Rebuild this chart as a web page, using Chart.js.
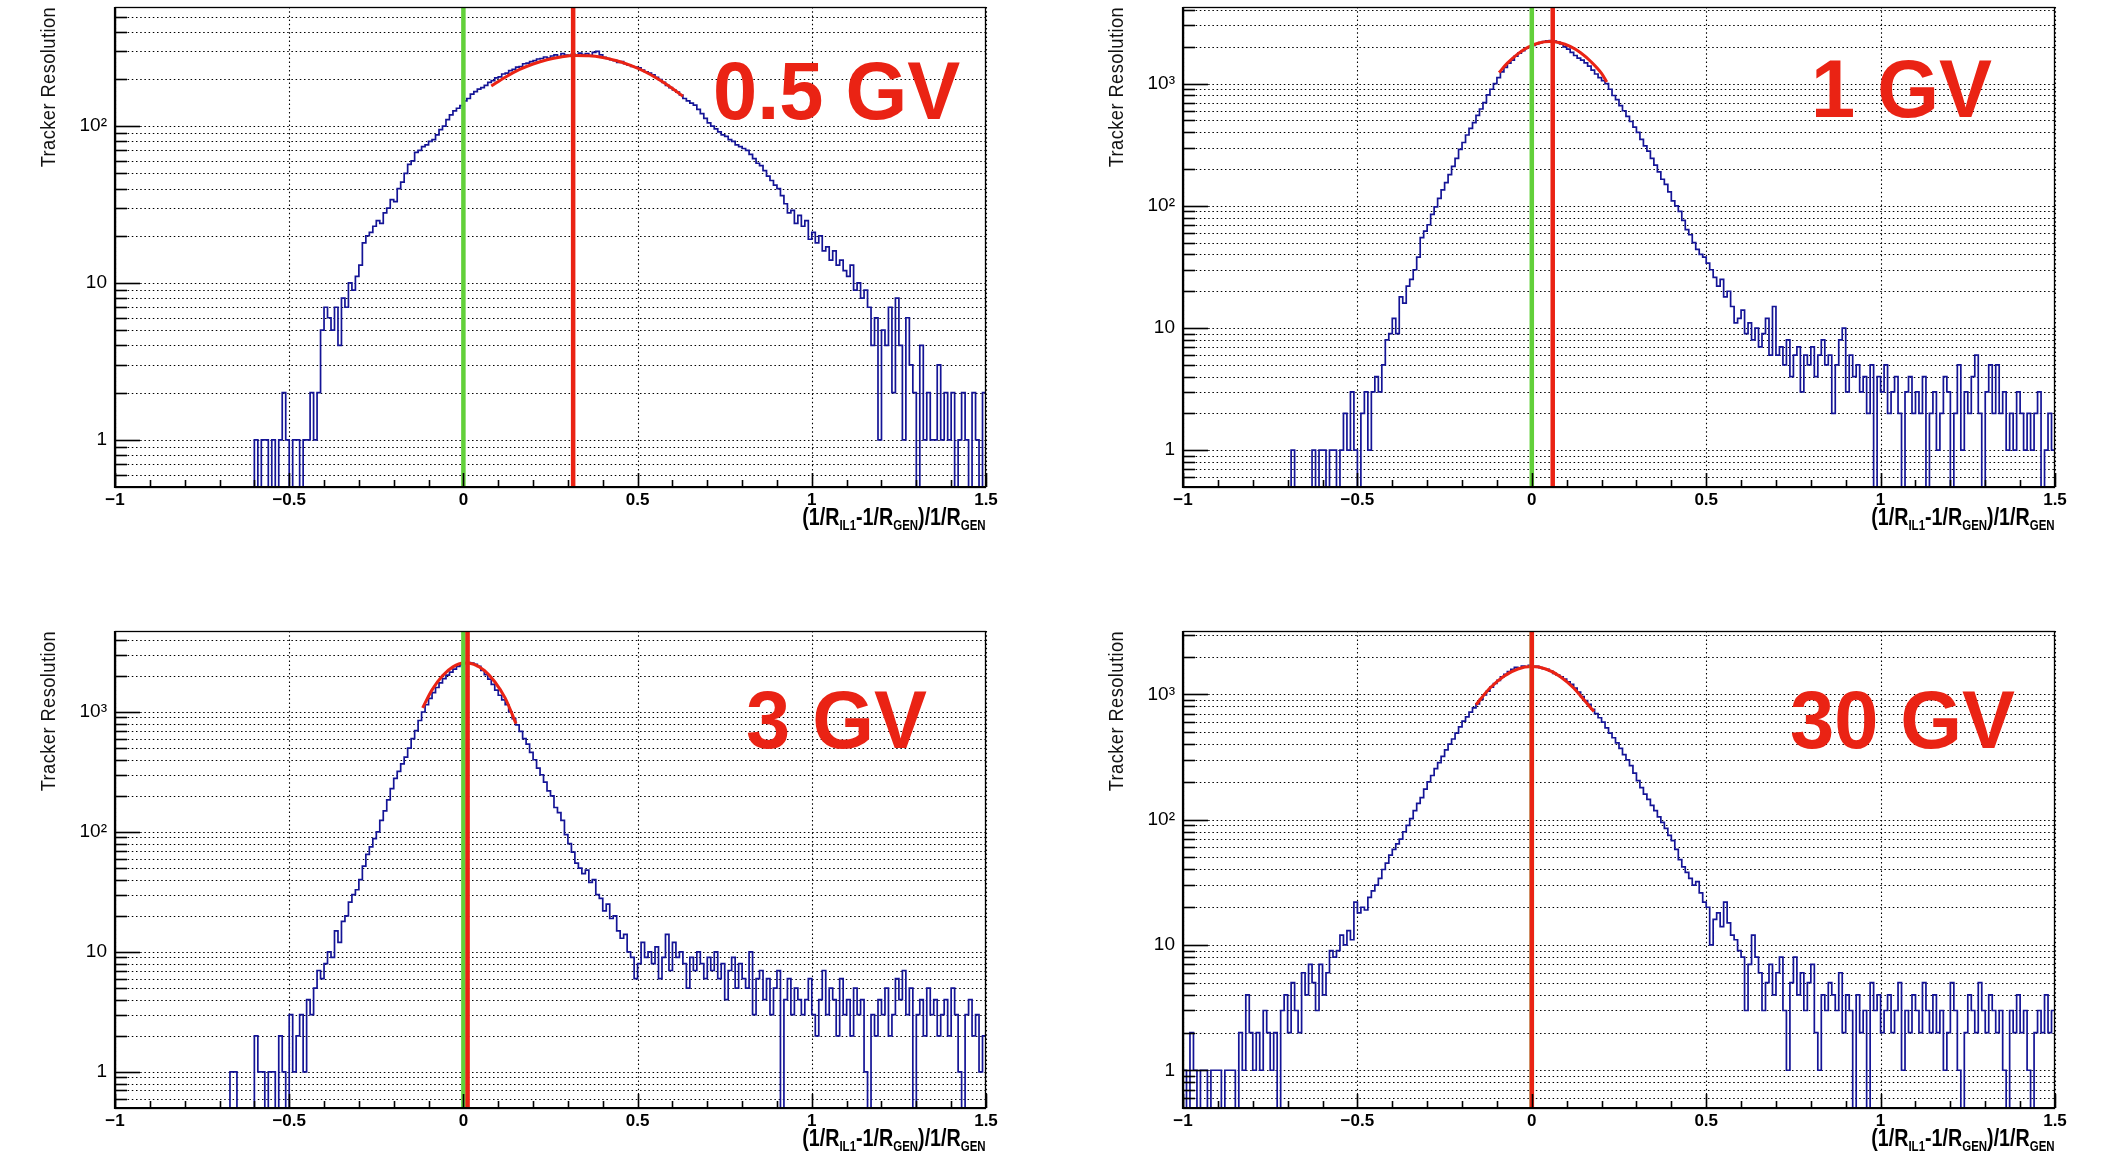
<!DOCTYPE html>
<html>
<head>
<meta charset="utf-8">
<script src="https://cdn.jsdelivr.net/npm/chart.js@4/dist/chart.umd.min.js"></script>
<style>
  html, body { margin: 0; padding: 0; background: #fff; }
  #wrap { position: relative; width: 2106px; height: 1155px; overflow: hidden; background: #fff; }
  canvas { position: absolute; }
  .gv { position: absolute; font-family: 'Liberation Sans', Arial, sans-serif; font-weight: bold; font-size: 81px;
        line-height: 81px; color: #ea2314; white-space: nowrap; transform: scaleX(0.98); transform-origin: 0 0; }
  .ytitle { position: absolute; width: 345px; height: 22px; line-height: 22px; text-align: right; white-space: nowrap;
            transform-origin: 0 0; transform: rotate(-90deg) scaleX(0.87); font-family: 'Liberation Sans', Arial, sans-serif;
            font-size: 21px; letter-spacing: 0.5px; color: #111; }
  .xtitle { position: absolute; font-family: 'Liberation Sans', Arial, sans-serif; font-weight: bold; font-size: 24px;
            line-height: 24px; white-space: nowrap; transform: scaleX(0.82); transform-origin: 100% 0; color: #000; }
  .xtitle sub { font-size: 14px; vertical-align: -5px; line-height: 0; }
</style>
</head>
<body>
<div id="wrap">
  <canvas id="c1" width="1011" height="547" style="left:0px;top:0px"></canvas>
  <canvas id="c2" width="1012" height="547" style="left:1068px;top:0px"></canvas>
  <canvas id="c3" width="1011" height="544" style="left:0px;top:624px"></canvas>
  <canvas id="c4" width="1012" height="544" style="left:1068px;top:624px"></canvas>

  <div class="gv" style="left:713px;top:51px">0.5 GV</div>
  <div class="gv" style="left:1811px;top:49px">1 GV</div>
  <div class="gv" style="left:746px;top:680px">3 GV</div>
  <div class="gv" style="left:1790px;top:680px">30 GV</div>

  <div class="ytitle" style="left:37px;top:307px">Tracker Resolution</div>
  <div class="ytitle" style="left:1105px;top:307px">Tracker Resolution</div>
  <div class="ytitle" style="left:37px;top:931px">Tracker Resolution</div>
  <div class="ytitle" style="left:1105px;top:931px">Tracker Resolution</div>

  <div class="xtitle" style="right:1120px;top:505px">(1/R<sub>IL1</sub>-1/R<sub>GEN</sub>)/1/R<sub>GEN</sub></div>
  <div class="xtitle" style="right:51px;top:505px">(1/R<sub>IL1</sub>-1/R<sub>GEN</sub>)/1/R<sub>GEN</sub></div>
  <div class="xtitle" style="right:1120px;top:1126px">(1/R<sub>IL1</sub>-1/R<sub>GEN</sub>)/1/R<sub>GEN</sub></div>
  <div class="xtitle" style="right:51px;top:1126px">(1/R<sub>IL1</sub>-1/R<sub>GEN</sub>)/1/R<sub>GEN</sub></div>
</div>
<script>
// ---------------- data ----------------
const X_MIN = -1.0;
const X_MAX = 1.5;
const BIN_W = 0.01;          // 250 bins
const Y_MIN = 0.5;
const Y_MAX = [575, 4240, 4735, 3200];

const X_TICK_LABELS = ['\u22121', '\u22120.5', '0', '0.5', '1', '1.5'];
const Y_MAJOR_VALUES = [1, 10, 100, 1000];
const Y_MAJOR_LABELS = ['1', '10', '10\u00B2', '10\u00B3'];

const PANEL_LABELS = ['0.5 GV', '1 GV', '3 GV', '30 GV'];

// bin contents, bins of 0.01 from -1.00 to 1.50
const COUNTS_05GV = [
  0,0,0,0,0,0,0,0,0,0,
  0,0,0,0,0,0,0,0,0,0,
  0,0,0,0,0,0,0,0,0,0,
  0,0,0,0,0,0,0,0,0,0,
  1,0,1,1,0,1,0,1,2,1,
  0,1,1,0,1,1,2,1,2,5,
  7,6,5,7,4,8,7,10,9,11,
  13,18,20,21,23,25,24,28,30,34,
  33,40,44,50,57,60,68,70,74,76,
  80,82,88,95,100,110,118,125,130,135,
  145,150,160,166,172,176,182,190,195,203,
  206,215,218,226,230,238,240,250,252,258,
  262,268,270,276,272,280,285,278,290,284,
  282,288,280,292,286,290,282,295,300,285,
  275,270,265,262,255,258,250,245,240,238,
  235,228,222,218,212,205,198,190,182,176,
  170,165,158,150,145,140,136,128,120,112,
  105,100,96,92,88,86,82,80,76,74,
  72,70,66,62,58,56,52,48,45,42,
  40,36,32,28,29,24,27,23,25,19,
  21,18,20,16,17,14,16,13,14,12,
  11,13,9,10,8,9,7,4,6,1,
  5,4,7,2,8,4,1,6,3,2,
  0,4,1,2,1,1,3,1,2,1,
  2,0,1,2,1,0,2,1,0,2
];
const COUNTS_1GV = [
  0,0,0,0,0,0,0,0,0,0,
  0,0,0,0,0,0,0,0,0,0,
  0,0,0,0,0,0,0,0,0,0,
  0,1,0,0,0,0,0,1,0,1,
  1,0,1,1,0,1,2,1,3,1,
  0,2,3,1,3,4,3,5,8,9,
  12,9,18,16,22,25,30,38,55,62,
  70,85,98,115,135,155,180,210,245,290,
  330,380,430,480,550,620,700,810,900,1000,
  1120,1250,1360,1470,1560,1680,1780,1860,1950,2000,
  2060,2120,2170,2210,2240,2250,2230,2200,2120,2000,
  1920,1800,1700,1620,1560,1480,1390,1290,1200,1120,
  1060,1000,900,800,740,660,600,540,490,440,
  400,350,310,280,245,215,190,165,150,130,
  110,100,90,76,64,58,50,44,40,38,
  34,30,26,22,25,18,20,15,11,12,
  14,9,11,8,10,7,9,12,6,15,
  6,7,5,8,4,6,7,3,6,5,
  7,4,6,8,5,6,2,5,8,10,
  3,6,4,5,3,4,2,5,0,4,
  3,5,2,3,4,2,0,3,4,2,
  3,2,4,0,2,3,1,2,4,3,
  0,2,5,1,3,2,4,6,2,0,
  3,5,2,5,2,3,1,2,1,3,
  2,1,2,1,2,3,0,1,2,1
];
const COUNTS_3GV = [
  0,0,0,0,0,0,0,0,0,0,
  0,0,0,0,0,0,0,0,0,0,
  0,0,0,0,0,0,0,0,0,0,
  0,0,0,1,1,0,0,0,0,0,
  2,1,1,0,1,1,0,2,1,0,
  3,1,2,3,1,4,3,5,7,6,
  8,10,9,15,12,18,20,26,30,33,
  40,52,65,75,88,100,125,150,185,230,
  280,320,370,420,500,600,700,850,1000,1150,
  1300,1450,1600,1750,1900,2030,2150,2280,2400,2480,
  2550,2580,2560,2500,2400,2220,2050,1880,1700,1520,
  1380,1260,1150,1000,880,780,690,600,540,460,
  400,340,300,260,220,200,160,145,125,95,
  80,68,55,50,45,48,38,40,30,28,
  22,25,19,20,15,13,14,10,9,6,
  8,12,9,10,8,11,6,9,14,7,
  12,9,10,8,5,9,7,10,8,6,
  9,7,10,6,8,4,7,9,5,8,
  6,5,10,3,6,7,4,6,3,5,
  7,0,4,6,3,5,4,3,4,6,
  3,2,4,7,3,5,4,2,6,3,
  4,2,5,3,4,1,0,3,2,4,
  3,5,2,3,6,4,7,3,5,0,
  3,4,2,5,3,4,2,3,4,2,
  5,3,1,0,3,4,2,3,1,2
];
const COUNTS_30GV = [
  1,0,2,1,0,1,1,0,1,1,
  1,0,1,1,1,0,2,1,4,2,
  1,2,1,3,2,1,2,0,3,4,
  2,5,3,2,6,4,7,5,3,7,
  4,6,9,8,9,12,10,13,11,22,
  18,20,19,24,27,30,34,40,45,52,
  58,64,70,80,90,102,118,135,150,175,
  200,225,255,285,320,360,400,440,490,550,
  610,660,720,780,840,910,990,1060,1140,1220,
  1290,1380,1440,1520,1580,1640,1620,1680,1650,1700,
  1660,1670,1630,1600,1580,1530,1470,1420,1380,1320,
  1260,1200,1120,1040,960,890,830,760,700,650,
  600,540,490,450,410,370,330,300,270,235,
  205,180,160,145,130,118,105,95,85,75,
  68,58,48,42,38,34,30,32,26,22,
  20,10,16,18,14,22,15,12,11,9,
  8,3,7,12,8,6,3,5,7,4,
  6,8,3,1,5,8,4,6,3,5,
  7,2,1,4,3,5,4,3,6,2,
  4,3,0,4,2,3,0,5,3,4,
  2,3,4,2,3,5,1,3,2,4,
  3,2,5,3,2,4,2,3,1,2,
  5,3,1,0,2,4,3,2,5,3,
  2,4,3,2,3,1,0,3,2,4,
  2,3,1,0,2,3,2,4,2,3
];

// gaussian fit curves
const FIT_X_05GV = [0.08, 0.12, 0.16, 0.20, 0.24, 0.28, 0.32, 0.36, 0.40, 0.44, 0.48, 0.52, 0.56, 0.60, 0.63];
const FIT_Y_05GV = [180, 205, 229, 249, 265, 276, 282, 281, 274, 261, 244, 223, 199, 174, 155];
const FIT_X_1GV  = [-0.094, -0.07, -0.04, -0.01, 0.02, 0.05, 0.08, 0.11, 0.14, 0.17, 0.20, 0.215];
const FIT_Y_1GV  = [1232, 1471, 1754, 1991, 2151, 2212, 2165, 2017, 1789, 1510, 1213, 1030];
const FIT_X_3GV  = [-0.117, -0.09, -0.06, -0.03, 0.0, 0.03, 0.06, 0.09, 0.12, 0.151];
const FIT_Y_3GV  = [1083, 1530, 2002, 2377, 2561, 2503, 2220, 1787, 1305, 800];
const FIT_X_30GV = [-0.16, -0.12, -0.08, -0.04, 0.0, 0.04, 0.08, 0.12, 0.15, 0.178];
const FIT_Y_30GV = [826, 1122, 1396, 1592, 1663, 1592, 1396, 1122, 899, 728];

// vertical marker lines
const RED_LINE_X   = [0.315, 0.06, 0.012, 0.0];
const GREEN_LINE_X = [0.0, 0.0, 0.0, 0.0];

// ---------------- style ----------------
const BLUE = 'rgb(20,20,150)';
const RED = '#ea2314';
const GREEN = '#62d03a';
const FONT = "'Liberation Sans', Arial, sans-serif";
Chart.defaults.font.family = FONT;

const yTickValues = (yMax) => {
  const out = [];
  [0.1, 1, 10, 100, 1000].forEach(d => { for (let k = 1; k <= 9; k++) { const v = d * k; if (v > Y_MIN && v < yMax) out.push(v); } });
  return out;
};

const rootFrame = {
  id: 'rootFrame',
  beforeDatasetsDraw(chart) {
    const { ctx, chartArea: a, scales: { x, y } } = chart;
    ctx.save();
    ctx.strokeStyle = '#000';
    ctx.lineWidth = 1.1;
    ctx.setLineDash([1.5, 2.7]);
    y.ticks.forEach(t => {
      const py = Math.round(y.getPixelForValue(t.value)) + 0.5;
      ctx.beginPath(); ctx.moveTo(a.left, py); ctx.lineTo(a.right, py); ctx.stroke();
    });
    x.ticks.forEach(t => {
      const px = Math.round(x.getPixelForValue(t.value)) + 0.5;
      ctx.beginPath(); ctx.moveTo(px, a.top); ctx.lineTo(px, a.bottom); ctx.stroke();
    });
    ctx.restore();
  },
  afterDatasetsDraw(chart) {
    const { ctx, chartArea: a, scales: { x, y } } = chart;
    ctx.save();
    ctx.setLineDash([]);
    ctx.strokeStyle = '#000';
    ctx.lineWidth = 1.6;
    y.ticks.forEach(t => {
      const py = Math.round(y.getPixelForValue(t.value)) + 0.5;
      const len = Y_MAJOR_VALUES.includes(t.value) ? 25 : 12;
      ctx.beginPath(); ctx.moveTo(a.left, py); ctx.lineTo(a.left + len, py); ctx.stroke();
    });
    for (let k = 0; k <= 25; k++) {
      const px = Math.round(x.getPixelForValue(X_MIN + k * 0.1)) + 0.5;
      const len = (k % 5 === 0) ? 14 : 7;
      ctx.beginPath(); ctx.moveTo(px, a.bottom); ctx.lineTo(px, a.bottom - len); ctx.stroke();
    }
    ctx.lineWidth = 1.3;
    ctx.strokeRect(a.left + 0.5, a.top + 0.5, a.right - a.left - 1, a.bottom - a.top);
    ctx.lineWidth = 2.2;
    ctx.beginPath(); ctx.moveTo(a.left, a.top); ctx.lineTo(a.left, a.bottom); ctx.lineTo(a.right, a.bottom); ctx.stroke();
    ctx.restore();
  }
};

function makePanel(id, counts, fitX, fitY, yMax, redX, greenX) {
  const hist = counts.map((c, i) => ({ x: X_MIN + i * BIN_W, y: c > 0 ? c : Y_MIN }));
  hist.push({ x: X_MAX, y: counts[counts.length - 1] > 0 ? counts[counts.length - 1] : Y_MIN });
  const fit = fitX.map((v, i) => ({ x: v, y: fitY[i] }));
  const ticksY = yTickValues(yMax);
  return new Chart(document.getElementById(id), {
    type: 'line',
    data: {
      datasets: [
        { data: [{ x: redX, y: Y_MIN }, { x: redX, y: yMax }], borderColor: RED, borderWidth: 4.5, pointRadius: 0 },
        { data: [{ x: greenX, y: Y_MIN }, { x: greenX, y: yMax }], borderColor: GREEN, borderWidth: 4.5, pointRadius: 0 },
        { data: fit, borderColor: RED, borderWidth: 3, pointRadius: 0, cubicInterpolationMode: 'monotone' },
        { data: hist, borderColor: BLUE, borderWidth: 1.7, pointRadius: 0, stepped: true }
      ]
    },
    options: {
      responsive: false, animation: false, devicePixelRatio: 1, events: [],
      layout: { padding: { left: 0, top: 7, right: 25, bottom: 0 } },
      plugins: { legend: { display: false }, tooltip: { enabled: false } },
      scales: {
        x: {
          type: 'linear', min: X_MIN, max: X_MAX, bounds: 'data',
          grid: { display: false, drawTicks: false }, border: { display: false },
          ticks: {
            stepSize: 0.5, autoSkip: false, maxRotation: 0, padding: 3, color: '#000',
            font: { size: 17, weight: 'bold' },
            callback: (v) => X_TICK_LABELS[Math.round((v - X_MIN) / 0.5)]
          },
          afterFit: (s) => { s.height = 60; s.paddingLeft = 0; s.paddingRight = 0; }
        },
        y: {
          type: 'logarithmic', min: Y_MIN, max: yMax, bounds: 'data',
          grid: { display: false, drawTicks: false }, border: { display: false },
          afterBuildTicks: (s) => { s.ticks = ticksY.map(v => ({ value: v })); },
          ticks: {
            autoSkip: false, padding: 8, color: '#000', font: { size: 19 },
            callback: (v) => { const i = Y_MAJOR_VALUES.indexOf(v); return i >= 0 ? Y_MAJOR_LABELS[i] : ''; }
          },
          afterFit: (s) => { s.width = 115; s.paddingTop = 0; s.paddingBottom = 0; }
        }
      }
    },
    plugins: [rootFrame]
  });
}

makePanel('c1', COUNTS_05GV, FIT_X_05GV, FIT_Y_05GV, Y_MAX[0], RED_LINE_X[0], GREEN_LINE_X[0]);
makePanel('c2', COUNTS_1GV, FIT_X_1GV, FIT_Y_1GV, Y_MAX[1], RED_LINE_X[1], GREEN_LINE_X[1]);
makePanel('c3', COUNTS_3GV, FIT_X_3GV, FIT_Y_3GV, Y_MAX[2], RED_LINE_X[2], GREEN_LINE_X[2]);
makePanel('c4', COUNTS_30GV, FIT_X_30GV, FIT_Y_30GV, Y_MAX[3], RED_LINE_X[3], GREEN_LINE_X[3]);
</script>
</body>
</html>
